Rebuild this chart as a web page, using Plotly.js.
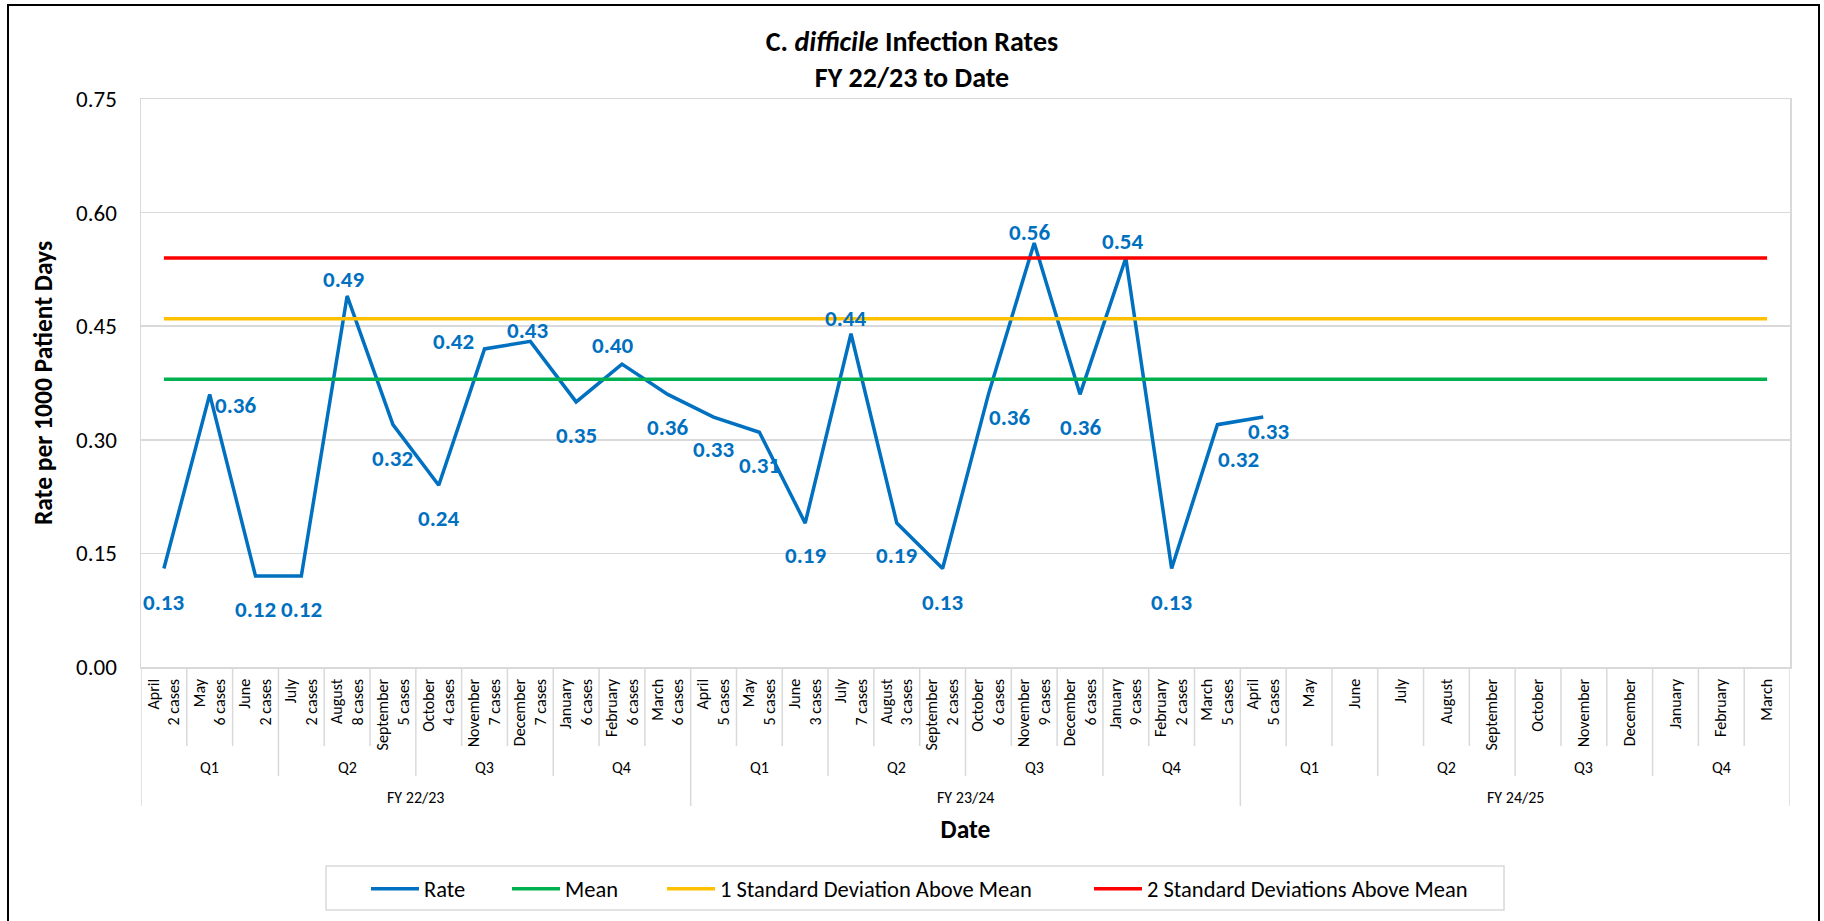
<!DOCTYPE html>
<html>
<head>
<meta charset="utf-8">
<script src="https://cdn.plot.ly/plotly-3.0.1.min.js"></script>
<style>
  html, body { margin: 0; padding: 0; background: #fff; }
  #chart { width: 1824px; height: 921px; }
</style>
</head>
<body>
<div id="chart"></div>
<script>
// ---------- data ----------
const fiscalYears = ['FY 22/23', 'FY 23/24', 'FY 24/25'];
const quarters = ['Q1', 'Q2', 'Q3', 'Q4'];
const months = ['April', 'May', 'June', 'July', 'August', 'September',
                'October', 'November', 'December', 'January', 'February', 'March'];
// cases per month (null = not yet reported)
const casesFY2223 = [2, 6, 2, 2, 8, 5, 4, 7, 7, 6, 6, 6];
const casesFY2324 = [5, 5, 3, 7, 3, 2, 6, 9, 6, 9, 2, 5];
const casesFY2425 = [5, null, null, null, null, null, null, null, null, null, null, null];
// rate per 1000 patient days
const rateFY2223 = [0.13, 0.36, 0.12, 0.12, 0.49, 0.32, 0.24, 0.42, 0.43, 0.35, 0.40, 0.36];
const rateFY2324 = [0.33, 0.31, 0.19, 0.44, 0.19, 0.13, 0.36, 0.56, 0.36, 0.54, 0.13, 0.32];
const rateFY2425 = [0.33, null, null, null, null, null, null, null, null, null, null, null];
const meanRate = 0.38;
const sd1Rate = 0.46;
const sd2Rate = 0.54;
const yTickVals = [0, 0.15, 0.30, 0.45, 0.60, 0.75];

// ---------- style: data label offsets (px) ----------
const labelShift = [
  [0,-33],[26,-11],[0,-33],[0,-33],[-4,17],[0,-33],[0,-33],[-31,8],[-3,11],[0,-33],[-9,19],[0,-33],
  [0,-32],[0,-33],[0,-32],[-5,16],[0,-32],[0,-33],[21,-23],[-5,11],[0,-33],[-3,17],[0,-33],[21,-34],
  [5,-14]
];

// ---------- build ----------
const cases = casesFY2223.concat(casesFY2324, casesFY2425);
const rates = rateFY2223.concat(rateFY2324, rateFY2425);
const xIdx = [];
const tickText = [];
fiscalYears.forEach(function (fy, f) {
  months.forEach(function (m, k) {
    const i = f * 12 + k;
    xIdx.push(i);
    const c = cases[i];
    tickText.push(c === null ? m : m + '<br>' + c + ' cases');
  });
});
const firstX = xIdx[0], lastX = xIdx[xIdx.length - 1];

const FONT = 'Carlito, Lato, "Open Sans", sans-serif';
const GRID = '#D9D9D9';
const BLUE = '#0070C0';

const traces = [
  { x: xIdx, y: rates, type: 'scatter', mode: 'lines', name: 'Rate',
    line: { color: BLUE, width: 3.5 }, connectgaps: false, hoverinfo: 'x+y', legendwidth: 78 },
  { x: [firstX, lastX], y: [meanRate, meanRate], type: 'scatter', mode: 'lines', name: 'Mean',
    line: { color: '#00B050', width: 3.5 }, legendwidth: 92 },
  { x: [firstX, lastX], y: [sd1Rate, sd1Rate], type: 'scatter', mode: 'lines', name: '1 Standard Deviation Above Mean',
    line: { color: '#FFC000', width: 3.5 }, legendwidth: 364 },
  { x: [firstX, lastX], y: [sd2Rate, sd2Rate], type: 'scatter', mode: 'lines', name: '2 Standard Deviations Above Mean',
    line: { color: '#FF0000', width: 3.5 }, legendwidth: 380 }
];

const annotations = [];
rates.forEach(function (v, i) {
  if (v === null) return;
  const s = labelShift[i] || [0, -33];
  annotations.push({ x: xIdx[i], y: v, xref: 'x', yref: 'y', text: v.toFixed(2), showarrow: false,
    xshift: s[0], yshift: s[1], font: { family: FONT, size: 23, color: BLUE, weight: 'bold' } });
});
fiscalYears.forEach(function (fy, f) {
  quarters.forEach(function (q, k) {
    annotations.push({ x: f * 12 + k * 3 + 1, y: 0, xref: 'x', yref: 'paper', text: q, showarrow: false,
      yanchor: 'middle', yshift: -100, font: { family: FONT, size: 16, color: '#000' } });
  });
  annotations.push({ x: f * 12 + 5.5, y: 0, xref: 'x', yref: 'paper', text: fy, showarrow: false,
    yanchor: 'middle', yshift: -130, font: { family: FONT, size: 16, color: '#000' } });
});

const shapes = [];
for (let b = 0; b <= xIdx.length; b++) {
  const depth = (b % 12 === 0) ? -139 : (b % 3 === 0 ? -109 : -79);
  shapes.push({ type: 'line', xref: 'x', x0: b - 0.5, x1: b - 0.5, yref: 'paper', ysizemode: 'pixel',
    yanchor: 0, y0: 0, y1: depth, line: { color: GRID, width: 1.5 }, layer: 'below' });
}
// legend frame
shapes.push({ type: 'rect', xref: 'paper', xsizemode: 'pixel', xanchor: 0, x0: 185, x1: 1363,
  yref: 'paper', ysizemode: 'pixel', yanchor: 0, y0: -199, y1: -243, line: { color: GRID, width: 1.5 } });
// outer chart frame
shapes.push({ type: 'rect', xref: 'paper', xsizemode: 'pixel', xanchor: 0, x0: -133, x1: 1678,
  yref: 'paper', ysizemode: 'pixel', yanchor: 1, y0: 94, y1: -840, line: { color: '#000', width: 2 } });

const layout = {
  width: 1824, height: 921,
  margin: { l: 141, r: 34, t: 99, b: 253 },
  paper_bgcolor: '#fff', plot_bgcolor: '#fff',
  font: { family: FONT, color: '#000' },
  title: { text: 'C. <i>difficile</i> Infection Rates<br>FY 22/23 to Date',
    xref: 'container', x: 0.5, xanchor: 'center', yref: 'container', y: 1 - 51 / 921, yanchor: 'middle',
    font: { family: FONT, size: 28, color: '#000', weight: 'bold' } },
  showlegend: true,
  legend: { orientation: 'h', xref: 'paper', yref: 'paper', x: (366 - 141) / 1649, xanchor: 'left',
    y: (668 - 889) / 569, yanchor: 'middle', font: { family: FONT, size: 22.5, color: '#000' },
    itemwidth: 48, bgcolor: 'rgba(0,0,0,0)', borderwidth: 0 },
  xaxis: { type: 'linear', range: [-0.5, 35.5], tickmode: 'array', tickvals: xIdx, ticktext: tickText,
    tickangle: -90, ticks: '', showgrid: false, zeroline: false, showline: true, mirror: true,
    linecolor: GRID, linewidth: 1.5, tickfont: { family: FONT, size: 16, color: '#000' },
    ticklabelstandoff: 4, automargin: false,
    title: { text: 'Date', standoff: 70, font: { family: FONT, size: 25.5, color: '#000', weight: 'bold' } } },
  yaxis: { range: [0, 0.75], tickmode: 'array', tickvals: yTickVals, tickformat: '.2f', ticks: '',
    showgrid: true, gridcolor: GRID, gridwidth: 1.5, zeroline: false, showline: true, mirror: true,
    linecolor: GRID, linewidth: 1.5, tickfont: { family: FONT, size: 23, color: '#000' },
    ticklabelstandoff: 18, automargin: false,
    title: { text: 'Rate per 1000 Patient Days', standoff: 16,
      font: { family: FONT, size: 25.5, color: '#000', weight: 'bold' } } },
  annotations: annotations,
  shapes: shapes
};

Plotly.newPlot('chart', traces, layout, { displayModeBar: false, staticPlot: true });
</script>
</body>
</html>
